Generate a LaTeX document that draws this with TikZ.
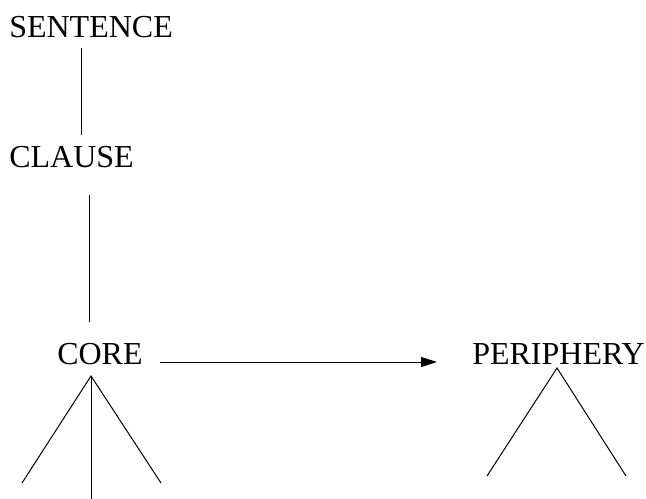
\documentclass[tikz,border=0pt]{standalone}
\usepackage{fontspec}
\setmainfont{Liberation Serif}
\usetikzlibrary{arrows.meta}
\begin{document}
\begin{tikzpicture}[x=0.75pt,y=-0.75pt,
  label/.style={inner sep=0pt,anchor=base west,font=\fontsize{24}{28}\selectfont},
  branch/.style={line width=0.75pt},
  link/.style={line width=0.75pt,-{Triangle[length=12pt,width=7.5pt]}}]
\useasboundingbox (0,0) rectangle (646,499);
% category labels
\node[label] (sentence)  at (9,37.5)   {SENTENCE};
\node[label] (clause)    at (9,168)    {CLAUSE};
\node[label] (core)      at (57,364)   {CORE};
\node[label] (periphery) at (472,364)  {PERIPHERY};
% end points of the tree branches
\coordinate (s1) at (81,48);   \coordinate (s2) at (81,135);
\coordinate (c1) at (89,195);  \coordinate (c2) at (89,322);
\coordinate (coreTop) at (91,376);
\coordinate (coreL) at (22,483);
\coordinate (coreM) at (91,499);
\coordinate (coreR) at (161,483);
\coordinate (perTop) at (557,368);
\coordinate (perL) at (487,476);
\coordinate (perR) at (626,476);
\coordinate (arrStart) at (160,362);
\coordinate (arrEnd) at (437,362);
% branches
\draw[branch] (s1) -- (s2);
\draw[branch] (c1) -- (c2);
\draw[branch] (coreL) -- (coreTop) -- (coreR);
\draw[branch] (coreTop) -- (coreM);
\draw[branch] (perL) -- (perTop) -- (perR);
% core to periphery
\draw[link] (arrStart) -- (arrEnd);
\end{tikzpicture}
\end{document}
